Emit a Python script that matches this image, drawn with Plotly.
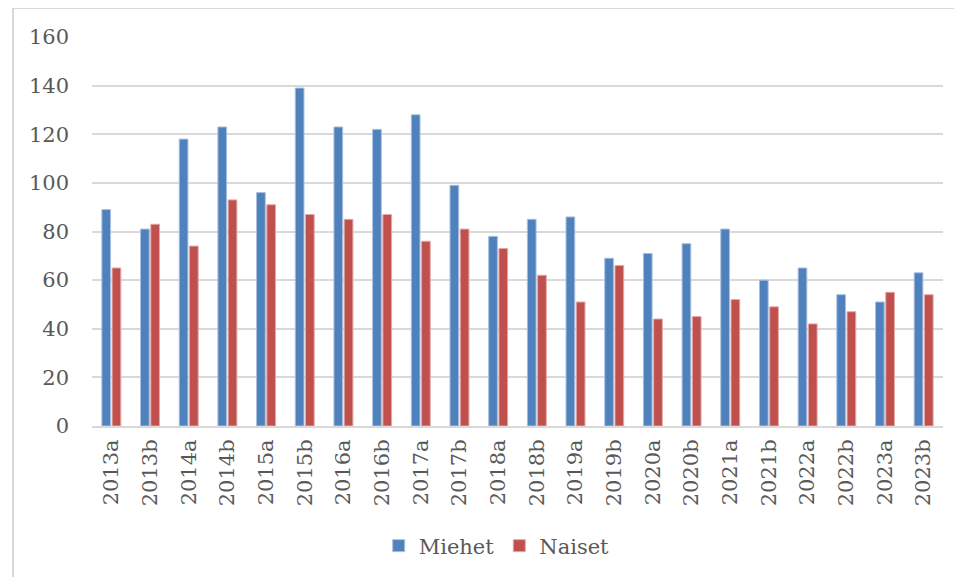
import plotly.graph_objects as go

CATEGORIES = [
    "2013a", "2013b", "2014a", "2014b", "2015a", "2015b", "2016a", "2016b",
    "2017a", "2017b", "2018a", "2018b", "2019a", "2019b", "2020a", "2020b",
    "2021a", "2021b", "2022a", "2022b", "2023a", "2023b",
]
MIEHET = [89, 81, 118, 123, 96, 139, 123, 122, 128, 99, 78, 85, 86, 69, 71, 75, 81, 60, 65, 54, 51, 63]
NAISET = [65, 83, 74, 93, 91, 87, 85, 87, 76, 81, 73, 62, 51, 66, 44, 45, 52, 49, 42, 47, 55, 54]
Y_TICKS = [0, 20, 40, 60, 80, 100, 120, 140, 160]

BLUE = "#4F81BD"
RED = "#C0504D"
GRID = "#d9d9d9"
TEXT = "#595959"
FONT = "DejaVu Serif"
FONT_SIZE = 21

fig = go.Figure()
fig.add_trace(go.Bar(
    x=CATEGORIES, y=MIEHET, name="Miehet",
    marker=dict(color=BLUE, line=dict(color="#a9c0de", width=1)),
))
fig.add_trace(go.Bar(
    x=CATEGORIES, y=NAISET, name="Naiset",
    marker=dict(color=RED, line=dict(color="#e3a9a7", width=1)),
))

# frame of the chart area (left and top edges only are visible)
fig.add_shape(type="line", xref="paper", yref="paper",
              x0=-0.0928, x1=-0.0928, y0=1.0746, y1=-1.5,
              line=dict(color=GRID, width=2))
fig.add_shape(type="line", xref="paper", yref="paper",
              x0=-0.0928, x1=1.1, y0=1.0746, y1=1.0746,
              line=dict(color=GRID, width=2))

# page body adds an 8px offset, margins compensate for it
fig.update_layout(
    width=962, height=577,
    margin=dict(l=84, r=27, t=29, b=159),
    paper_bgcolor="white", plot_bgcolor="white",
    barmode="group", bargap=0.47, bargroupgap=0.15,
    font=dict(family=FONT, size=FONT_SIZE, color=TEXT),
    showlegend=True,
    legend=dict(
        orientation="h", xref="container", yref="container",
        x=0.508, y=0.0676, xanchor="center", yanchor="middle",
        font=dict(family=FONT, size=FONT_SIZE, color=TEXT),
        itemwidth=30, traceorder="normal",
    ),
)
fig.update_xaxes(
    tickangle=-90, showgrid=False, showline=True, linecolor=GRID, linewidth=2,
    ticks="", ticklabelstandoff=3, tickfont=dict(family=FONT, size=FONT_SIZE, color=TEXT),
)
fig.update_yaxes(
    range=[0, 160], tickvals=Y_TICKS, showgrid=True, gridcolor=GRID, gridwidth=2,
    zeroline=False, showline=False, ticks="", ticklabelstandoff=22,
    tickfont=dict(family=FONT, size=FONT_SIZE, color=TEXT),
)

fig.write_html("out.html")
